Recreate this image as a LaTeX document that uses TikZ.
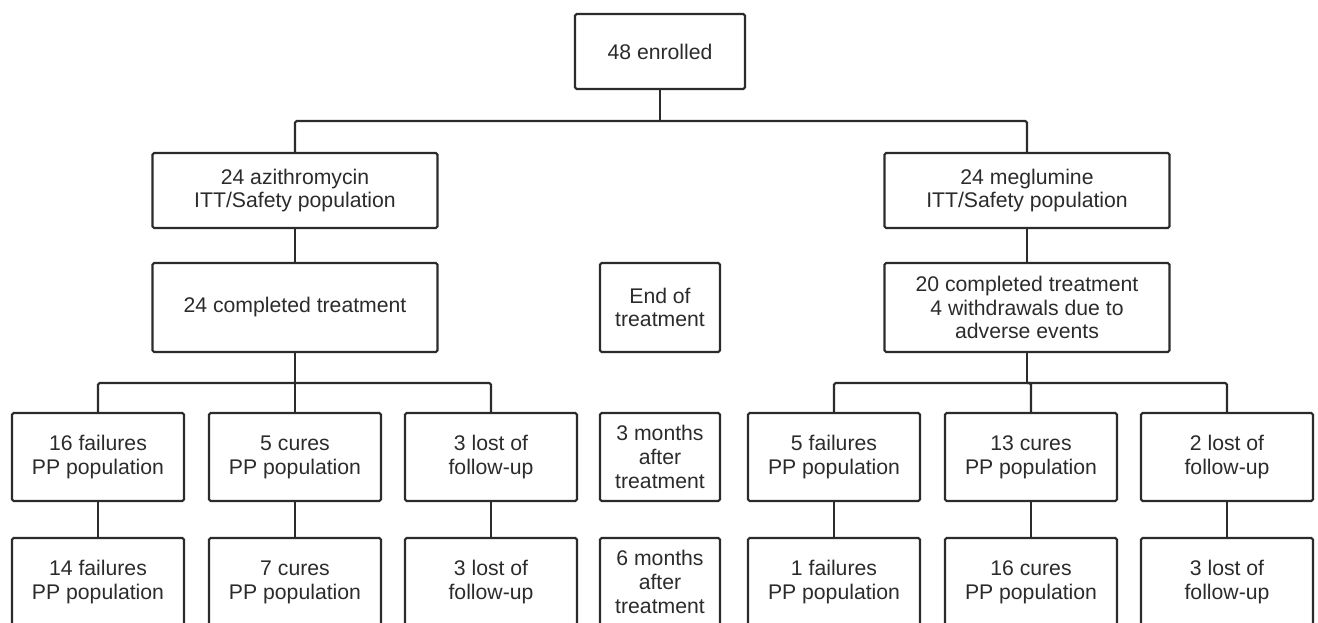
\documentclass[tikz,border=0pt]{standalone}
\usepackage{fontspec}
\setmainfont{Liberation Sans}
\definecolor{ink}{HTML}{2B2B2B}
\tikzset{box/.style={draw=ink, line width=1.1pt, rounded corners=0.8pt, text=ink, align=center, inner sep=0pt, font=\fontsize{10.6}{11.9}\selectfont},
         wide/.style={box, minimum width=142.5pt, minimum height=37.5pt},
         leaf/.style={box, minimum width=86pt, minimum height=44pt},
         tbox/.style={box, minimum width=60pt, minimum height=44pt},
         link/.style={draw=ink, line width=1.1pt, rounded corners=0.8pt}}

\begin{document}
\begin{tikzpicture}[x=0.5pt,y=-0.5pt]
  \clip (0,0) rectangle (1318,622);
  % upper part
  \node[box, minimum width=85pt, minimum height=37.5pt] (top) at (660,51.5) {48 enrolled};
  \node[wide] (azi) at ( 295,190.5) {24 azithromycin\\ITT/Safety population};
  \node[wide] (meg) at (1027,190.5) {24 meglumine\\ITT/Safety population};
  \node[wide, minimum height=44.5pt] (azc) at ( 295,307.5) {24 completed treatment};
  \node[wide, minimum height=44.5pt] (mgc) at (1027,307.5) {20 completed treatment\\4 withdrawals due to\\adverse events};
  \node[tbox, minimum height=44.5pt] (t0) at (660,307.5) {End of\\treatment};
  % 3 months
  \node[leaf] (a1) at (  98,457) {16 failures\\PP population};
  \node[leaf] (a2) at ( 295,457) {5 cures\\PP population};
  \node[leaf] (a3) at ( 491,457) {3 lost of\\follow-up};
  \node[tbox] (t1) at ( 660,457) {3 months\\after\\treatment};
  \node[leaf] (m1) at ( 834,457) {5 failures\\PP population};
  \node[leaf] (m2) at (1031,457) {13 cures\\PP population};
  \node[leaf] (m3) at (1227,457) {2 lost of\\follow-up};
  % 6 months
  \node[leaf] (b1) at (  98,582) {14 failures\\PP population};
  \node[leaf] (b2) at ( 295,582) {7 cures\\PP population};
  \node[leaf] (b3) at ( 491,582) {3 lost of\\follow-up};
  \node[tbox] (t2) at ( 660,582) {6 months\\after\\treatment};
  \node[leaf] (n1) at ( 834,582) {1 failures\\PP population};
  \node[leaf] (n2) at (1031,582) {16 cures\\PP population};
  \node[leaf] (n3) at (1227,582) {3 lost of\\follow-up};
  % connectors
  \coordinate (j0) at ( 660,121);
  \coordinate (ja) at ( 295,383);
  \coordinate (jm) at (1027,383);
  \draw[link] (top) -- (j0);
  \draw[link] (azi) |- (j0) -| (meg);
  \draw[link] (azi) -- (azc);
  \draw[link] (meg) -- (mgc);
  \draw[link] (azc) -- (ja);
  \draw[link] (mgc) -- (jm);
  \draw[link] (a1) |- (ja) -| (a3);
  \draw[link] (a2) -- (ja);
  \draw[link] (m1) |- (jm) -| (m3);
  \draw[link] (m2) |- (jm);
  \draw[link] (a1) -- (b1);
  \draw[link] (a2) -- (b2);
  \draw[link] (a3) -- (b3);
  \draw[link] (m1) -- (n1);
  \draw[link] (m2) -- (n2);
  \draw[link] (m3) -- (n3);
\end{tikzpicture}
\end{document}
